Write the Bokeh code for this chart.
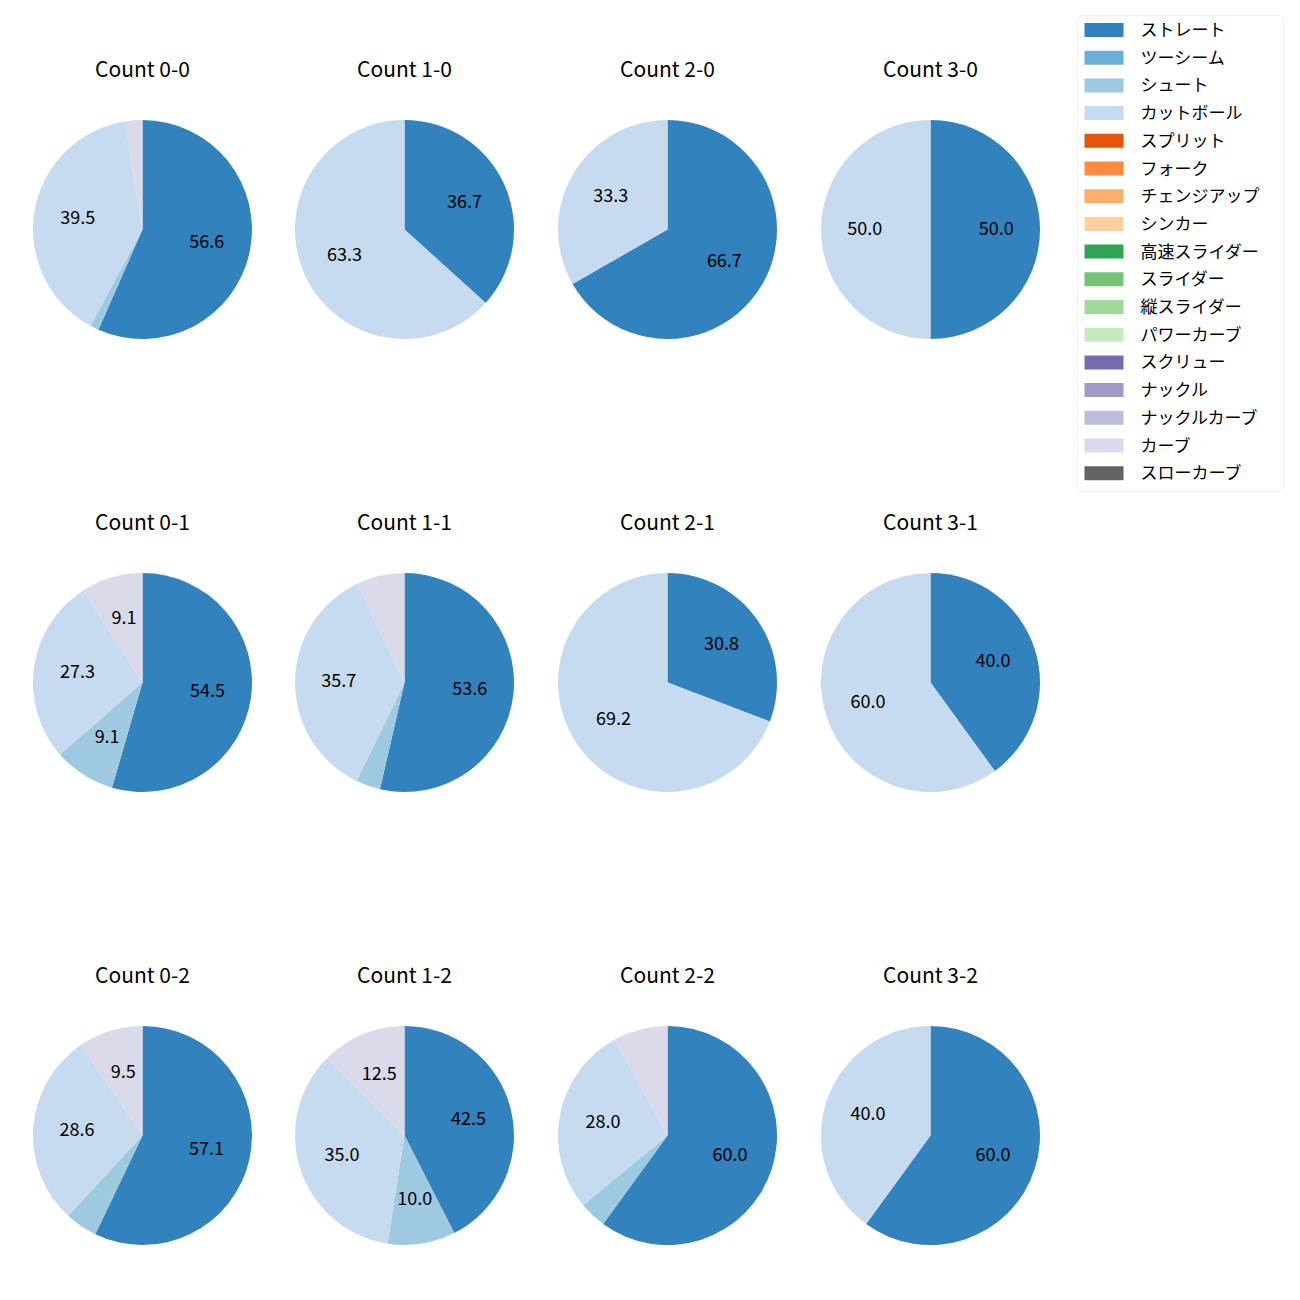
import math
from bokeh.plotting import figure
from bokeh.models import Range1d, ColumnDataSource, BoxAnnotation
from bokeh.core.properties import value
from bokeh.embed import file_html
from bokeh.resources import INLINE

# ---- data ----
pitch_types = ["ストレート", "ツーシーム", "シュート", "カットボール", "スプリット", "フォーク",
               "チェンジアップ", "シンカー", "高速スライダー", "スライダー", "縦スライダー",
               "パワーカーブ", "スクリュー", "ナックル", "ナックルカーブ", "カーブ", "スローカーブ"]
pitch_colors = ["#3182bd", "#6baed6", "#9ecae1", "#c6dbef", "#e6550d", "#fd8d3c",
                "#fdae6b", "#fdd0a2", "#31a354", "#74c476", "#a1d99b", "#c7e9c0",
                "#756bb1", "#9e9ac8", "#bcbddc", "#dadaeb", "#636363"]

counts = ["0-0", "1-0", "2-0", "3-0",
          "0-1", "1-1", "2-1", "3-1",
          "0-2", "1-2", "2-2", "3-2"]
# percentages per count: ストレート, シュート, カットボール, カーブ
straight = [56.6, 36.7, 66.7, 50.0, 54.5, 53.6, 30.8, 40.0, 57.1, 42.5, 60.0, 60.0]
shoot    = [1.3, 0.0, 0.0, 0.0, 9.1, 3.6, 0.0, 0.0, 4.8, 10.0, 4.0, 0.0]
cutter   = [39.5, 63.3, 33.3, 50.0, 27.3, 35.7, 69.2, 60.0, 28.6, 35.0, 28.0, 40.0]
curve    = [2.6, 0.0, 0.0, 0.0, 9.1, 7.1, 0.0, 0.0, 9.5, 12.5, 8.0, 0.0]
series_names = ["ストレート", "シュート", "カットボール", "カーブ"]
series_values = [straight, shoot, cutter, curve]
label_min = 9.0

# ---- layout (image pixels) ----
W = H = 1284
col_x = [142, 404, 667, 930]
row_y = [229, 682, 1135]
R = 109.5
title_dy = 160.5

def fy(ypix):
    return 1300 - ypix

p = figure(width=W, height=H, output_backend="svg", toolbar_location=None,
           x_range=Range1d(0, W), y_range=Range1d(1300 - H, 1300),
           min_border=0)
p.axis.visible = False
p.grid.visible = False
p.outline_line_color = None
p.background_fill_color = "white"
p.border_fill_color = "white"

color_of = dict(zip(pitch_types, pitch_colors))
font = value("Noto Sans CJK JP")

wx, wy, ws, we, wc = [], [], [], [], []
lx, ly, lt = [], [], []
tx, ty, tt = [], [], []
for k, cnt in enumerate(counts):
    cx = col_x[k % 4]
    cy = fy(row_y[k // 4])
    total = sum(s[k] for s in series_values)
    cum = 0.0
    for name, s in zip(series_names, series_values):
        v = s[k]
        if v <= 0:
            continue
        c0 = cum / total
        c1 = (cum + v) / total
        cum += v
        a0 = math.pi / 2 - 2 * math.pi * c0
        a1 = math.pi / 2 - 2 * math.pi * c1
        wx.append(cx); wy.append(cy); ws.append(a1); we.append(a0); wc.append(color_of[name])
        if v >= label_min:
            am = (a0 + a1) / 2
            lx.append(cx + 0.6 * R * math.cos(am))
            ly.append(cy + 0.6 * R * math.sin(am))
            lt.append(f"{v:.1f}")
    tx.append(cx); ty.append(cy + title_dy); tt.append(f"Count {cnt}")

p.wedge(x="x", y="y", radius=R, start_angle="s", end_angle="e", direction="anticlock",
        fill_color="c", line_color=None,
        source=ColumnDataSource(dict(x=wx, y=wy, s=ws, e=we, c=wc)))
p.text(x="x", y="y", text="t", source=ColumnDataSource(dict(x=lx, y=ly, t=lt)),
       text_font=font, text_font_size="18px", text_align="center", text_baseline="middle",
       text_color="black", y_offset=-2)
p.text(x="x", y="y", text="t", source=ColumnDataSource(dict(x=tx, y=ty, t=tt)),
       text_font=font, text_font_size="21px", text_align="center", text_baseline="middle",
       text_color="black", y_offset=-1.5)

# ---- legend ----
box = BoxAnnotation(left=1077, right=1283, top=fy(15), bottom=fy(491),
                    fill_color="white", fill_alpha=0.8, line_color="#cccccc", line_width=1,
                    border_radius=4, level="underlay")
p.add_layout(box)
leg_y = [fy(29.5 + 27.7 * i) for i in range(len(pitch_types))]
p.rect(x=[1103.5] * len(pitch_types), y=leg_y, width=39, height=14,
       fill_color=pitch_colors, line_color=None)
p.text(x=[1140] * len(pitch_types), y=leg_y, text=pitch_types, text_font=font,
       text_font_size="17px", text_align="left", text_baseline="middle", text_color="black",
       y_offset=-1.5)

open("out.html", "w").write(file_html(p, INLINE))
